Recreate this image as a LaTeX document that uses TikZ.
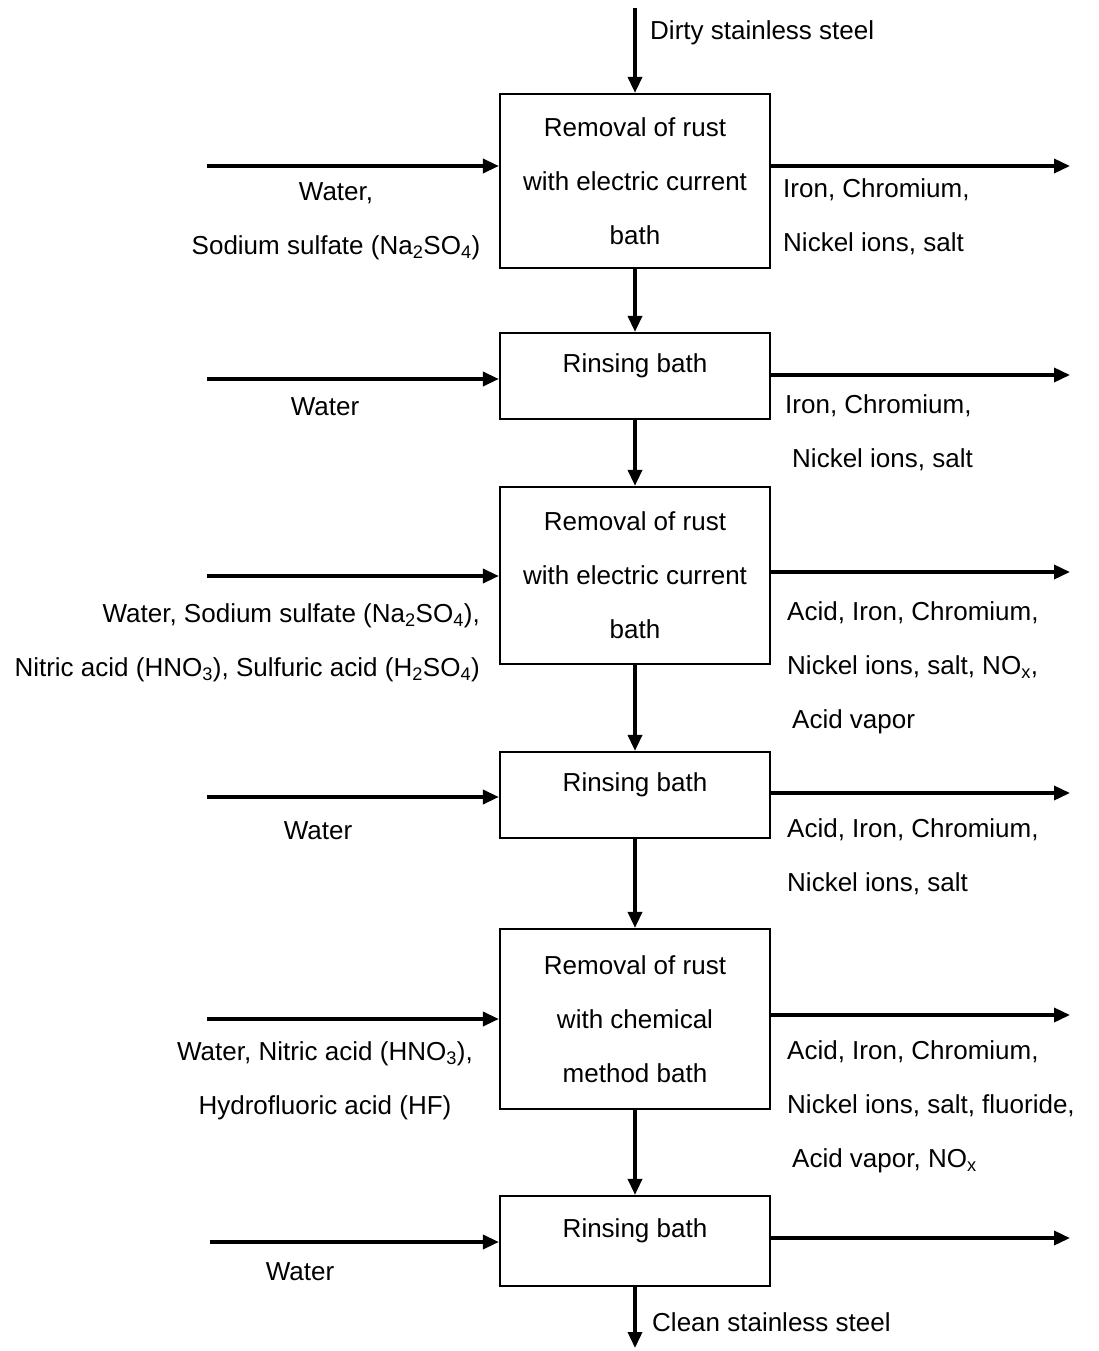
\documentclass[tikz,border=0pt]{standalone}
\usepackage{fontspec}
\setmainfont{Liberation Sans}
\usetikzlibrary{arrows.meta}
\newcommand{\sbs}[1]{\textsubscript{#1}}
\begin{document}
\begin{tikzpicture}[x=1pt,y=-1pt,
  every node/.style={font=\fontsize{26}{54}\selectfont, inner sep=0pt},
  bathbox/.style={draw, line width=2.2pt, minimum width=270pt, align=center, fill=none},
  flow/.style={line width=3.5pt, -{Triangle[length=16pt,width=14pt]}},
  lbl/.style={anchor=base, align=center},
  rlbl/.style={anchor=base west, align=left},
]
\useasboundingbox (0,0) rectangle (1098,1351);
% boxes
\node[bathbox, minimum height=174pt] (b1) at (635,181) {Removal of rust\\with electric current\\bath};
\node[bathbox, minimum height=86pt, text height=18pt, text depth=25pt] (b2) at (635,376) {Rinsing bath};
\node[bathbox, minimum height=177pt] (b3) at (635,575.5) {Removal of rust\\with electric current\\bath};
\node[bathbox, minimum height=86pt, text height=18pt, text depth=25pt] (b4) at (635,795) {Rinsing bath};
\node[bathbox, minimum height=180pt] (b5) at (635,1019) {Removal of rust\\with chemical\\method bath};
\node[bathbox, minimum height=90pt, text height=18pt, text depth=25pt] (b6) at (635,1241) {Rinsing bath};
% free ends
\coordinate (top) at (635,8);
\coordinate (bot) at (635,1348);
\coordinate (i1) at (207,166);
\coordinate (i2) at (207,379);
\coordinate (i3) at (207,576);
\coordinate (i4) at (207,797);
\coordinate (i5) at (207,1019);
\coordinate (i6) at (210,1242);
\coordinate (o1) at (1070,166);
\coordinate (o2) at (1070,375);
\coordinate (o3) at (1070,572);
\coordinate (o4) at (1070,793);
\coordinate (o5) at (1070,1015);
\coordinate (o6) at (1070,1238);
% main line
\draw[flow] (top) -- (b1.north);
\draw[flow] (b1.south) -- (b2.north);
\draw[flow] (b2.south) -- (b3.north);
\draw[flow] (b3.south) -- (b4.north);
\draw[flow] (b4.south) -- (b5.north);
\draw[flow] (b5.south) -- (b6.north);
\draw[flow] (b6.south) -- (bot);
% inputs and outputs
\foreach \i in {1,...,6} {
  \draw[flow] (i\i) -- (i\i -| b\i.west);
  \draw[flow] (o\i -| b\i.east) -- (o\i);
}
% labels (base = last line)
\node[anchor=base west] (tl) at (650,39.5) {Dirty stainless steel};
\node[anchor=base west] (bl) at (652,1331.5) {Clean stainless steel};
\node[lbl] (l1) at (336,254.5) {Water,\\Sodium sulfate (Na\sbs{2}SO\sbs{4})};
\node[lbl] (l2) at (325,415.5) {Water};
\node[anchor=base east, align=right] (l3) at (480,676.5) {Water, Sodium sulfate (Na\sbs{2}SO\sbs{4}),\\Nitric acid (HNO\sbs{3}), Sulfuric acid (H\sbs{2}SO\sbs{4})};
\node[lbl] (l4) at (318,839.5) {Water};
\node[lbl] (l5) at (325,1114.5) {Water, Nitric acid (HNO\sbs{3}),\\Hydrofluoric acid (HF)};
\node[lbl] (l6) at (300,1280.5) {Water};
\node[rlbl] (r1) at (783,251.5) {Iron, Chromium,\\Nickel ions, salt};
\node[rlbl] (r2) at (785,467.5) {Iron, Chromium,\\\hspace*{7pt}Nickel ions, salt};
\node[rlbl] (r3) at (787,728.5) {Acid, Iron, Chromium,\\Nickel ions, salt, NO\sbs{x},\\\hspace*{5pt}Acid vapor};
\node[rlbl] (r4) at (787,891.5) {Acid, Iron, Chromium,\\Nickel ions, salt};
\node[rlbl] (r5) at (787,1167.5) {Acid, Iron, Chromium,\\Nickel ions, salt, fluoride,\\\hspace*{5pt}Acid vapor, NO\sbs{x}};
\end{tikzpicture}
\end{document}
